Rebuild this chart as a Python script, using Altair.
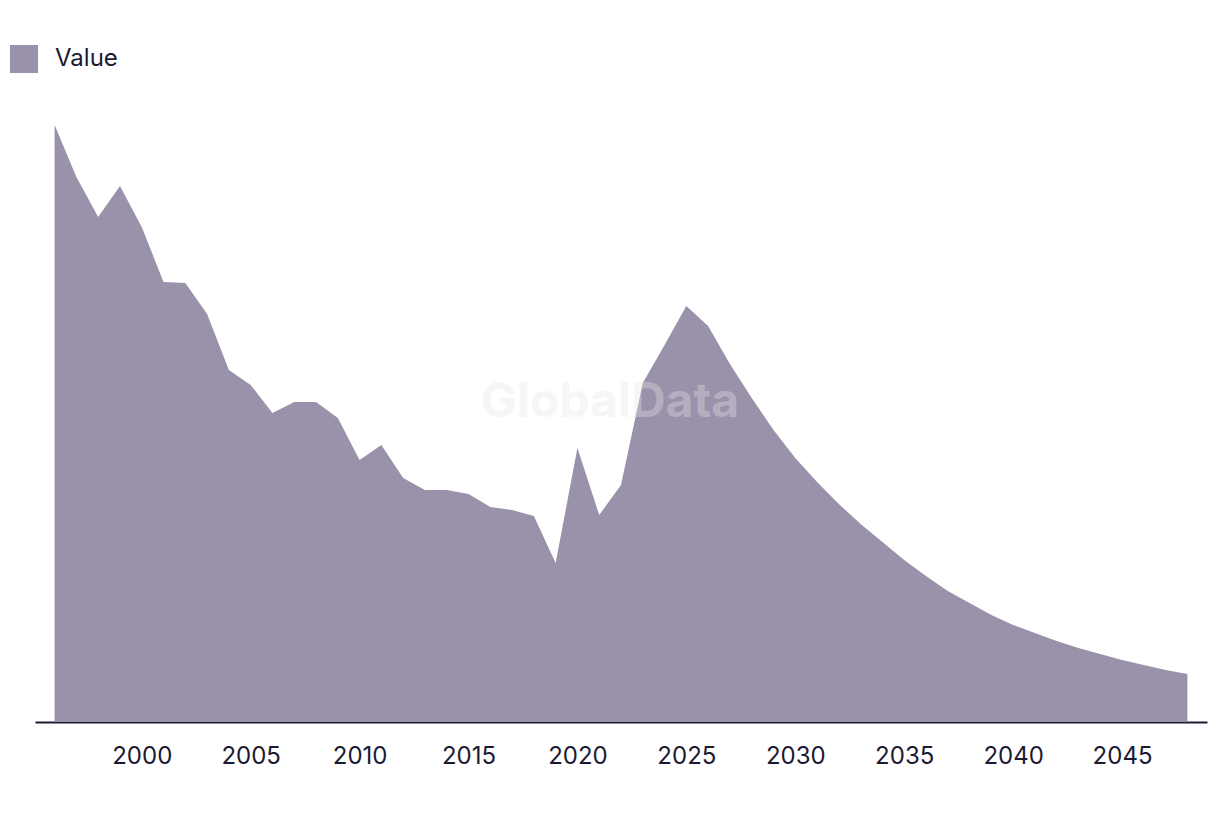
import altair as alt
import pandas as pd

years = list(range(1996, 2049))
values = [597, 545, 505, 536, 495, 440, 439, 408, 352, 337,
          309, 320, 320, 304, 262, 277, 244, 232, 232, 228,
          215, 212, 206, 159, 274, 207, 237, 339, 377, 416,
          396, 358, 324, 292, 264, 240, 218, 198, 180, 162,
          146, 131, 119, 107, 97, 89, 81, 74, 68, 62,
          57, 52, 48]
series = ["Value"] * len(years)
tick_years = [2000, 2005, 2010, 2015, 2020, 2025, 2030, 2035, 2040, 2045]

df = pd.DataFrame({"year": years, "value": values, "series": series})

FONT = "Inter"
TEXT = "#1c1a33"
FILL = "#9a91aa"

area = alt.Chart(df).mark_area(color=FILL, opacity=1, strokeWidth=0).encode(
    x=alt.X("year:Q",
            scale=alt.Scale(domain=[1995.1, 2048.9], nice=False, zero=False),
            axis=alt.Axis(values=tick_years, format="d", title=None, grid=False,
                          ticks=False, domainColor=TEXT, domainWidth=2,
                          labelColor=TEXT, labelFontSize=24, labelFont=FONT,
                          labelPadding=22, labelFlush=False)),
    y=alt.Y("value:Q", scale=alt.Scale(domain=[0, 622], nice=False), axis=None),
    fill=alt.Fill("series:N",
                  scale=alt.Scale(domain=["Value"], range=[FILL]),
                  legend=alt.Legend(title=None, orient="none", legendX=-25, legendY=-55,
                                    symbolType="square", symbolSize=784,
                                    symbolStrokeWidth=0, symbolOpacity=1,
                                    labelFontSize=24, labelFont=FONT, labelColor=TEXT,
                                    labelOffset=17, padding=0)),
)

watermark = alt.Chart(pd.DataFrame({"t": ["GlobalData"]})).mark_text(
    font=FONT, fontSize=48, fontWeight="bold", color="#e6e6e6", opacity=0.35,
    align="center", baseline="middle"
).encode(x=alt.value(575), y=alt.value(303), text="t:N")

chart = alt.layer(area, watermark).properties(
    width=1172, height=622,
    autosize=alt.AutoSizeParams(type="none"),
    padding={"left": 35, "top": 100, "right": 13, "bottom": 92},
).configure(background="white", view=alt.ViewConfig(strokeWidth=0, stroke="transparent"))

chart.save("out.html", embed_options={"renderer": "svg", "actions": False})
